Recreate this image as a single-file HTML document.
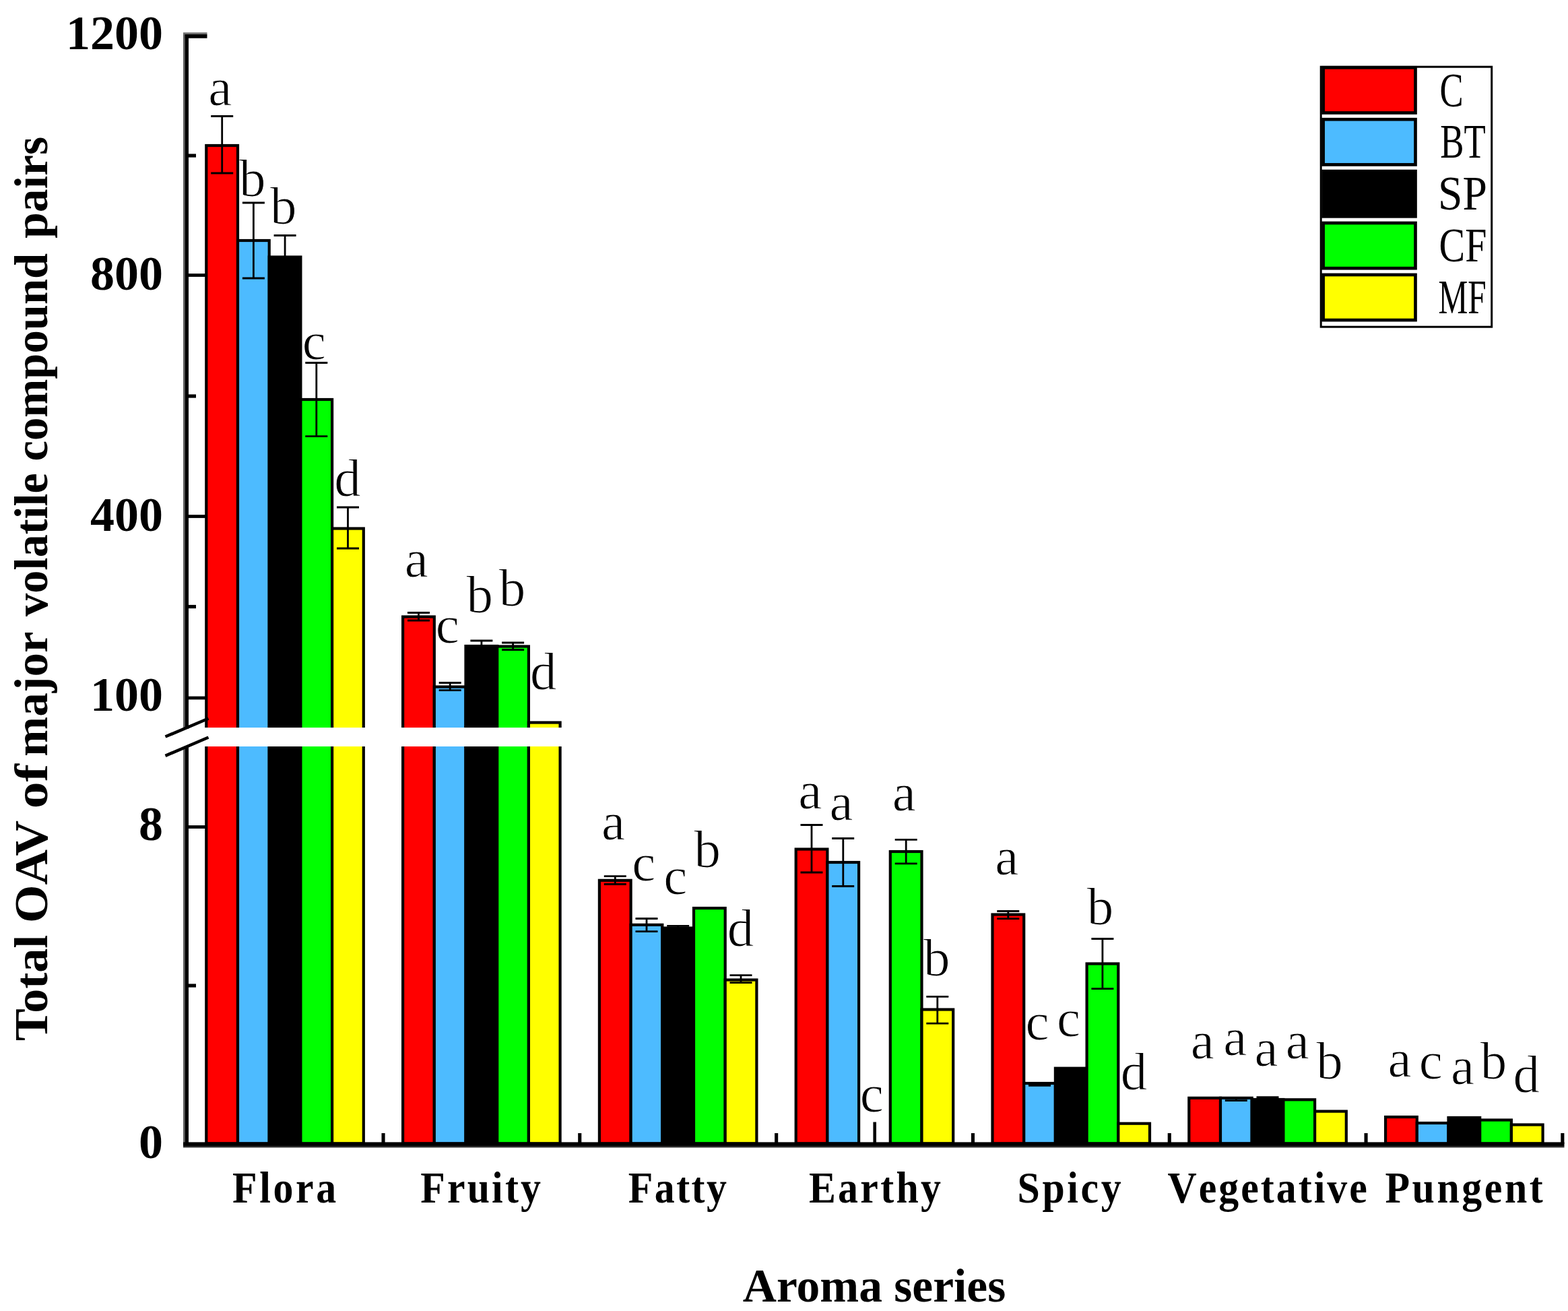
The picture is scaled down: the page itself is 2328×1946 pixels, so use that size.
<!DOCTYPE html><html><head><meta charset="utf-8"><title>Total OAV of major volatile compound pairs by aroma series</title>
<style>html,body{margin:0;padding:0;background:#fff;overflow:hidden;}svg{display:block;}text{font-family:"Liberation Serif","Times New Roman",serif;}</style></head><body>
<svg width="2328" height="1946" viewBox="0 0 2328 1946">
<rect x="0" y="0" width="2328" height="1946" fill="#fff"/>
<defs><clipPath id="cu"><rect x="0" y="0" width="2328" height="1080.0"/></clipPath>
<clipPath id="cl"><rect x="0" y="1108.0" width="2328" height="838.0"/></clipPath></defs>
<text x="326.9" y="156.4" font-size="79" text-anchor="middle" stroke="#fff" stroke-width="1.0">a</text>
<text x="374.8" y="291.3" font-size="79" text-anchor="middle" stroke="#fff" stroke-width="1.0">b</text>
<text x="420.8" y="332.4" font-size="79" text-anchor="middle" stroke="#fff" stroke-width="1.0">b</text>
<text x="466.3" y="532.8" font-size="79" text-anchor="middle" stroke="#fff" stroke-width="1.0">c</text>
<text x="515.9" y="735.5" font-size="79" text-anchor="middle" stroke="#fff" stroke-width="1.0">d</text>
<text x="618.4" y="856.0" font-size="79" text-anchor="middle" stroke="#fff" stroke-width="1.0">a</text>
<text x="664.2" y="953.5" font-size="79" text-anchor="middle" stroke="#fff" stroke-width="1.0">c</text>
<text x="712.2" y="908.9" font-size="79" text-anchor="middle" stroke="#fff" stroke-width="1.0">b</text>
<text x="760.5" y="899.0" font-size="79" text-anchor="middle" stroke="#fff" stroke-width="1.0">b</text>
<text x="806.8" y="1022.9" font-size="79" text-anchor="middle" stroke="#fff" stroke-width="1.0">d</text>
<text x="910.6" y="1246.2" font-size="79" text-anchor="middle" stroke="#fff" stroke-width="1.0">a</text>
<text x="955.8" y="1306.9" font-size="79" text-anchor="middle" stroke="#fff" stroke-width="1.0">c</text>
<text x="1002.8" y="1327.4" font-size="79" text-anchor="middle" stroke="#fff" stroke-width="1.0">c</text>
<text x="1050.2" y="1287.3" font-size="79" text-anchor="middle" stroke="#fff" stroke-width="1.0">b</text>
<text x="1099.4" y="1404.3" font-size="79" text-anchor="middle" stroke="#fff" stroke-width="1.0">d</text>
<text x="1202.7" y="1200.2" font-size="79" text-anchor="middle" stroke="#fff" stroke-width="1.0">a</text>
<text x="1249.1" y="1216.5" font-size="79" text-anchor="middle" stroke="#fff" stroke-width="1.0">a</text>
<text x="1294.4" y="1650.0" font-size="79" text-anchor="middle" stroke="#fff" stroke-width="1.0">c</text>
<text x="1342.3" y="1202.8" font-size="79" text-anchor="middle" stroke="#fff" stroke-width="1.0">a</text>
<text x="1390.8" y="1448.3" font-size="79" text-anchor="middle" stroke="#fff" stroke-width="1.0">b</text>
<text x="1494.9" y="1298.2" font-size="79" text-anchor="middle" stroke="#fff" stroke-width="1.0">a</text>
<text x="1540.0" y="1543.2" font-size="79" text-anchor="middle" stroke="#fff" stroke-width="1.0">c</text>
<text x="1586.5" y="1538.0" font-size="79" text-anchor="middle" stroke="#fff" stroke-width="1.0">c</text>
<text x="1633.4" y="1371.5" font-size="79" text-anchor="middle" stroke="#fff" stroke-width="1.0">b</text>
<text x="1683.4" y="1617.2" font-size="79" text-anchor="middle" stroke="#fff" stroke-width="1.0">d</text>
<text x="1785.3" y="1571.0" font-size="79" text-anchor="middle" stroke="#fff" stroke-width="1.0">a</text>
<text x="1833.7" y="1565.7" font-size="79" text-anchor="middle" stroke="#fff" stroke-width="1.0">a</text>
<text x="1880.0" y="1582.0" font-size="79" text-anchor="middle" stroke="#fff" stroke-width="1.0">a</text>
<text x="1926.3" y="1571.0" font-size="79" text-anchor="middle" stroke="#fff" stroke-width="1.0">a</text>
<text x="1974.0" y="1601.0" font-size="79" text-anchor="middle" stroke="#fff" stroke-width="1.0">b</text>
<text x="2078.1" y="1598.2" font-size="79" text-anchor="middle" stroke="#fff" stroke-width="1.0">a</text>
<text x="2124.2" y="1600.7" font-size="79" text-anchor="middle" stroke="#fff" stroke-width="1.0">c</text>
<text x="2171.6" y="1609.4" font-size="79" text-anchor="middle" stroke="#fff" stroke-width="1.0">a</text>
<text x="2217.6" y="1601.3" font-size="79" text-anchor="middle" stroke="#fff" stroke-width="1.0">b</text>
<text x="2266.2" y="1620.5" font-size="79" text-anchor="middle" stroke="#fff" stroke-width="1.0">d</text>
<g clip-path="url(#cu)">
<rect x="306.3" y="216.0" width="46.7" height="874.0" fill="#ff0000" stroke="#000" stroke-width="4.2"/>
<rect x="353.0" y="357.0" width="46.7" height="733.0" fill="#4dbbff" stroke="#000" stroke-width="4.2"/>
<rect x="399.7" y="381.5" width="46.7" height="708.5" fill="#000000" stroke="#000" stroke-width="4.2"/>
<rect x="446.4" y="593.0" width="46.7" height="497.0" fill="#00ff00" stroke="#000" stroke-width="4.2"/>
<rect x="493.1" y="784.5" width="46.7" height="305.5" fill="#ffff00" stroke="#000" stroke-width="4.2"/>
<rect x="598.1" y="915.5" width="46.7" height="174.5" fill="#ff0000" stroke="#000" stroke-width="4.2"/>
<rect x="644.8" y="1019.5" width="46.7" height="70.5" fill="#4dbbff" stroke="#000" stroke-width="4.2"/>
<rect x="691.5" y="959.0" width="46.7" height="131.0" fill="#000000" stroke="#000" stroke-width="4.2"/>
<rect x="738.2" y="959.5" width="46.7" height="130.5" fill="#00ff00" stroke="#000" stroke-width="4.2"/>
<rect x="784.9" y="1072.5" width="46.7" height="17.5" fill="#ffff00" stroke="#000" stroke-width="4.2"/>
<path d="M313.2 172.5H346.2M313.2 257H346.2M329.7 172.5V257" stroke="#000" stroke-width="2.8" fill="none"/>
<path d="M359.9 301H392.9M359.9 413H392.9M376.4 301V413" stroke="#000" stroke-width="2.8" fill="none"/>
<path d="M406.6 349.5H439.6M406.6 414H439.6M423.1 349.5V414" stroke="#000" stroke-width="2.8" fill="none"/>
<path d="M453.3 538.5H486.3M453.3 647.7H486.3M469.8 538.5V647.7" stroke="#000" stroke-width="2.8" fill="none"/>
<path d="M500.0 753H533.0M500.0 814H533.0M516.5 753V814" stroke="#000" stroke-width="2.8" fill="none"/>
<path d="M605.0 909.5H638.0M605.0 921H638.0M621.5 909.5V921" stroke="#000" stroke-width="2.8" fill="none"/>
<path d="M651.7 1013.5H684.7M651.7 1024.7H684.7M668.2 1013.5V1024.7" stroke="#000" stroke-width="2.8" fill="none"/>
<path d="M698.4 951H731.4M698.4 966H731.4M714.9 951V966" stroke="#000" stroke-width="2.8" fill="none"/>
<path d="M745.1 954H778.1M745.1 964.5H778.1M761.6 954V964.5" stroke="#000" stroke-width="2.8" fill="none"/>
</g>
<g clip-path="url(#cl)">
<rect x="306.3" y="1098.0" width="46.7" height="599.5" fill="#ff0000" stroke="#000" stroke-width="4.2"/>
<rect x="353.0" y="1098.0" width="46.7" height="599.5" fill="#4dbbff" stroke="#000" stroke-width="4.2"/>
<rect x="399.7" y="1098.0" width="46.7" height="599.5" fill="#000000" stroke="#000" stroke-width="4.2"/>
<rect x="446.4" y="1098.0" width="46.7" height="599.5" fill="#00ff00" stroke="#000" stroke-width="4.2"/>
<rect x="493.1" y="1098.0" width="46.7" height="599.5" fill="#ffff00" stroke="#000" stroke-width="4.2"/>
<rect x="598.1" y="1098.0" width="46.7" height="599.5" fill="#ff0000" stroke="#000" stroke-width="4.2"/>
<rect x="644.8" y="1098.0" width="46.7" height="599.5" fill="#4dbbff" stroke="#000" stroke-width="4.2"/>
<rect x="691.5" y="1098.0" width="46.7" height="599.5" fill="#000000" stroke="#000" stroke-width="4.2"/>
<rect x="738.2" y="1098.0" width="46.7" height="599.5" fill="#00ff00" stroke="#000" stroke-width="4.2"/>
<rect x="784.9" y="1098.0" width="46.7" height="599.5" fill="#ffff00" stroke="#000" stroke-width="4.2"/>
<rect x="889.9" y="1306.8" width="46.7" height="390.7" fill="#ff0000" stroke="#000" stroke-width="4.2"/>
<rect x="936.6" y="1372.8" width="46.7" height="324.7" fill="#4dbbff" stroke="#000" stroke-width="4.2"/>
<rect x="983.3" y="1377.5" width="46.7" height="320.0" fill="#000000" stroke="#000" stroke-width="4.2"/>
<rect x="1030.0" y="1348.0" width="46.7" height="349.5" fill="#00ff00" stroke="#000" stroke-width="4.2"/>
<rect x="1076.7" y="1454.5" width="46.7" height="243.0" fill="#ffff00" stroke="#000" stroke-width="4.2"/>
<rect x="1181.7" y="1260.5" width="46.7" height="437.0" fill="#ff0000" stroke="#000" stroke-width="4.2"/>
<rect x="1228.4" y="1280.0" width="46.7" height="417.5" fill="#4dbbff" stroke="#000" stroke-width="4.2"/>
<rect x="1321.8" y="1264.0" width="46.7" height="433.5" fill="#00ff00" stroke="#000" stroke-width="4.2"/>
<rect x="1368.5" y="1498.5" width="46.7" height="199.0" fill="#ffff00" stroke="#000" stroke-width="4.2"/>
<rect x="1473.5" y="1357.5" width="46.7" height="340.0" fill="#ff0000" stroke="#000" stroke-width="4.2"/>
<rect x="1520.2" y="1608.0" width="46.7" height="89.5" fill="#4dbbff" stroke="#000" stroke-width="4.2"/>
<rect x="1566.9" y="1585.7" width="46.7" height="111.8" fill="#000000" stroke="#000" stroke-width="4.2"/>
<rect x="1613.6" y="1430.5" width="46.7" height="267.0" fill="#00ff00" stroke="#000" stroke-width="4.2"/>
<rect x="1660.3" y="1667.7" width="46.7" height="29.8" fill="#ffff00" stroke="#000" stroke-width="4.2"/>
<rect x="1765.3" y="1629.8" width="46.7" height="67.7" fill="#ff0000" stroke="#000" stroke-width="4.2"/>
<rect x="1812.0" y="1629.8" width="46.7" height="67.7" fill="#4dbbff" stroke="#000" stroke-width="4.2"/>
<rect x="1858.7" y="1632.0" width="46.7" height="65.5" fill="#000000" stroke="#000" stroke-width="4.2"/>
<rect x="1905.4" y="1632.3" width="46.7" height="65.2" fill="#00ff00" stroke="#000" stroke-width="4.2"/>
<rect x="1952.1" y="1649.6" width="46.7" height="47.9" fill="#ffff00" stroke="#000" stroke-width="4.2"/>
<rect x="2057.1" y="1658.0" width="46.7" height="39.5" fill="#ff0000" stroke="#000" stroke-width="4.2"/>
<rect x="2103.8" y="1667.0" width="46.7" height="30.5" fill="#4dbbff" stroke="#000" stroke-width="4.2"/>
<rect x="2150.5" y="1659.0" width="46.7" height="38.5" fill="#000000" stroke="#000" stroke-width="4.2"/>
<rect x="2197.2" y="1662.5" width="46.7" height="35.0" fill="#00ff00" stroke="#000" stroke-width="4.2"/>
<rect x="2243.9" y="1669.5" width="46.7" height="28.0" fill="#ffff00" stroke="#000" stroke-width="4.2"/>
<path d="M896.8 1300.7H929.8M896.8 1312.5H929.8M913.3 1300.7V1312.5" stroke="#000" stroke-width="2.8" fill="none"/>
<path d="M943.5 1363.5H976.5M943.5 1382.6H976.5M960.0 1363.5V1382.6" stroke="#000" stroke-width="2.8" fill="none"/>
<path d="M990.2 1374.3H1023.2M990.2 1380H1023.2M1006.7 1374.3V1380" stroke="#000" stroke-width="2.8" fill="none"/>
<path d="M1083.5 1447.6H1116.5M1083.5 1458.7H1116.5M1100.0 1447.6V1458.7" stroke="#000" stroke-width="2.8" fill="none"/>
<path d="M1188.5 1224.5H1221.5M1188.5 1295H1221.5M1205.0 1224.5V1295" stroke="#000" stroke-width="2.8" fill="none"/>
<path d="M1235.2 1244.5H1268.2M1235.2 1315.5H1268.2M1251.8 1244.5V1315.5" stroke="#000" stroke-width="2.8" fill="none"/>
<path d="M1328.7 1246.3H1361.7M1328.7 1281.8H1361.7M1345.2 1246.3V1281.8" stroke="#000" stroke-width="2.8" fill="none"/>
<path d="M1375.3 1479.3H1408.3M1375.3 1519.2H1408.3M1391.8 1479.3V1519.2" stroke="#000" stroke-width="2.8" fill="none"/>
<path d="M1480.3 1352.5H1513.3M1480.3 1363.6H1513.3M1496.8 1352.5V1363.6" stroke="#000" stroke-width="2.8" fill="none"/>
<path d="M1527.0 1607.8H1560.0M1527.0 1611.3H1560.0M1543.5 1607.8V1611.3" stroke="#000" stroke-width="2.8" fill="none"/>
<path d="M1620.4 1393.5H1653.4M1620.4 1467.7H1653.4M1636.9 1393.5V1467.7" stroke="#000" stroke-width="2.8" fill="none"/>
<path d="M1818.8 1629.8H1851.8M1818.8 1633.6H1851.8M1835.3 1629.8V1633.6" stroke="#000" stroke-width="2.8" fill="none"/>
<path d="M1865.5 1628.6H1898.5M1865.5 1633H1898.5M1882.0 1628.6V1633" stroke="#000" stroke-width="2.8" fill="none"/>
</g>
<rect x="1296.4" y="1665.5" width="4.6" height="32" fill="#000"/>
<rect x="272" y="51" width="3" height="1029" fill="#606060"/>
<rect x="274.8" y="51" width="5.2" height="1031" fill="#000"/>
<rect x="272" y="1109" width="3" height="594" fill="#606060"/>
<rect x="274.8" y="1107" width="5.2" height="594" fill="#000"/>
<rect x="272" y="48.2" width="35.5" height="3" fill="#707070"/>
<rect x="274.8" y="51" width="32.7" height="5.7" fill="#000"/>
<rect x="279" y="406.1" width="28" height="4.8" fill="#000"/>
<rect x="279" y="764.1" width="28" height="4.8" fill="#000"/>
<rect x="279" y="1033.6" width="28" height="4.8" fill="#000"/>
<rect x="279" y="1225.1" width="28" height="4.8" fill="#000"/>
<rect x="279" y="228.4" width="12" height="5.2" fill="#000"/>
<rect x="279" y="585.4" width="12" height="5.2" fill="#000"/>
<rect x="279" y="897.9" width="12" height="5.2" fill="#000"/>
<rect x="279" y="1460.4" width="12" height="5.2" fill="#000"/>
<rect x="272" y="1695.4" width="2050.5" height="5.6" fill="#000"/>
<rect x="272" y="1700.9" width="2050.5" height="2.5" fill="#2a2a2a"/>
<rect x="566.5" y="1682" width="5.1" height="16" fill="#000"/>
<rect x="858.2" y="1682" width="5.1" height="16" fill="#000"/>
<rect x="1150.1" y="1682" width="5.1" height="16" fill="#000"/>
<rect x="1441.9" y="1682" width="5.1" height="16" fill="#000"/>
<rect x="1733.7" y="1682" width="5.1" height="16" fill="#000"/>
<rect x="2025.5" y="1682" width="5.1" height="16" fill="#000"/>
<rect x="2317.3" y="1682" width="5.1" height="16" fill="#000"/>
<path d="M245.5 1093.5L309.5 1066.5M245.5 1121.8L309.5 1094.5" stroke="#000" stroke-width="4.6" fill="none"/>
<text x="242" y="72.5" font-size="72" font-weight="bold" text-anchor="end">1200</text>
<text x="242" y="430" font-size="72" font-weight="bold" text-anchor="end">800</text>
<text x="242" y="788" font-size="72" font-weight="bold" text-anchor="end">400</text>
<text x="242" y="1055" font-size="72" font-weight="bold" text-anchor="end">100</text>
<text x="242" y="1247" font-size="72" font-weight="bold" text-anchor="end">8</text>
<text x="242" y="1719" font-size="72" font-weight="bold" text-anchor="end">0</text>
<text transform="translate(345 1785) scale(0.9 1)" font-size="66.5" font-weight="bold" letter-spacing="4.08" style="font-kerning:none">Flora</text>
<text transform="translate(624.2 1785) scale(0.9 1)" font-size="66.5" font-weight="bold" letter-spacing="3.52" style="font-kerning:none">Fruity</text>
<text transform="translate(932.8 1785) scale(0.9 1)" font-size="66.5" font-weight="bold" letter-spacing="2.72" style="font-kerning:none">Fatty</text>
<text transform="translate(1200.9 1785) scale(0.9 1)" font-size="66.5" font-weight="bold" letter-spacing="3.66" style="font-kerning:none">Earthy</text>
<text transform="translate(1510.5 1785) scale(0.9 1)" font-size="66.5" font-weight="bold" letter-spacing="4.0" style="font-kerning:none">Spicy</text>
<text transform="translate(1733.5 1785) scale(0.9 1)" font-size="66.5" font-weight="bold" letter-spacing="3.35" style="font-kerning:none">Vegetative</text>
<text transform="translate(2056.5 1785) scale(0.9 1)" font-size="66.5" font-weight="bold" letter-spacing="3.96" style="font-kerning:none">Pungent</text>
<text x="1298" y="1932" font-size="69.5" font-weight="bold" text-anchor="middle">Aroma series</text>
<text transform="translate(69.5 1544.3) rotate(-90) scale(1.0197 1)" x="-1" y="0" font-size="70.7" font-weight="bold">Total</text>
<text transform="translate(69.5 1367) rotate(-90) scale(1.0278 1)" x="-3" y="0" font-size="70.7" font-weight="bold">OAV</text>
<text transform="translate(69.5 1197) rotate(-90) scale(1.1250 1)" x="-3" y="0" font-size="70.7" font-weight="bold">of</text>
<text transform="translate(69.5 1121) rotate(-90) scale(1.0055 1)" x="-2" y="0" font-size="70.7" font-weight="bold">major</text>
<text transform="translate(69.5 915) rotate(-90) scale(0.9679 1)" x="0" y="0" font-size="70.7" font-weight="bold">volatile</text>
<text transform="translate(69.5 682.5) rotate(-90) scale(0.9699 1)" x="-2" y="0" font-size="70.7" font-weight="bold">compound</text>
<text transform="translate(69.5 353) rotate(-90) scale(0.9867 1)" x="-1" y="0" font-size="70.7" font-weight="bold">pairs</text>
<rect x="1961.2" y="99.2" width="253.5" height="386" fill="#fff" stroke="#000" stroke-width="3"/>
<rect x="1964.6" y="100.3" width="136.9" height="67.2" fill="#ff0000" stroke="#000" stroke-width="4.7"/>
<text transform="translate(2137.4 157.5) scale(0.742 1)" font-size="71">C</text>
<rect x="1964.6" y="177.2" width="136.9" height="67.2" fill="#4dbbff" stroke="#000" stroke-width="4.7"/>
<text transform="translate(2138.2 233.6) scale(0.744 1)" font-size="71">BT</text>
<rect x="1964.6" y="254.1" width="136.9" height="67.2" fill="#000000" stroke="#000" stroke-width="4.7"/>
<text transform="translate(2135.0 310.8) scale(0.923 1)" font-size="71">SP</text>
<rect x="1964.6" y="331.0" width="136.9" height="67.2" fill="#00ff00" stroke="#000" stroke-width="4.7"/>
<text transform="translate(2136.6 388.1) scale(0.815 1)" font-size="71">CF</text>
<rect x="1964.6" y="407.9" width="136.9" height="67.2" fill="#ffff00" stroke="#000" stroke-width="4.7"/>
<text transform="translate(2135.5 465.3) scale(0.694 1)" font-size="71">MF</text>
</svg></body></html>
